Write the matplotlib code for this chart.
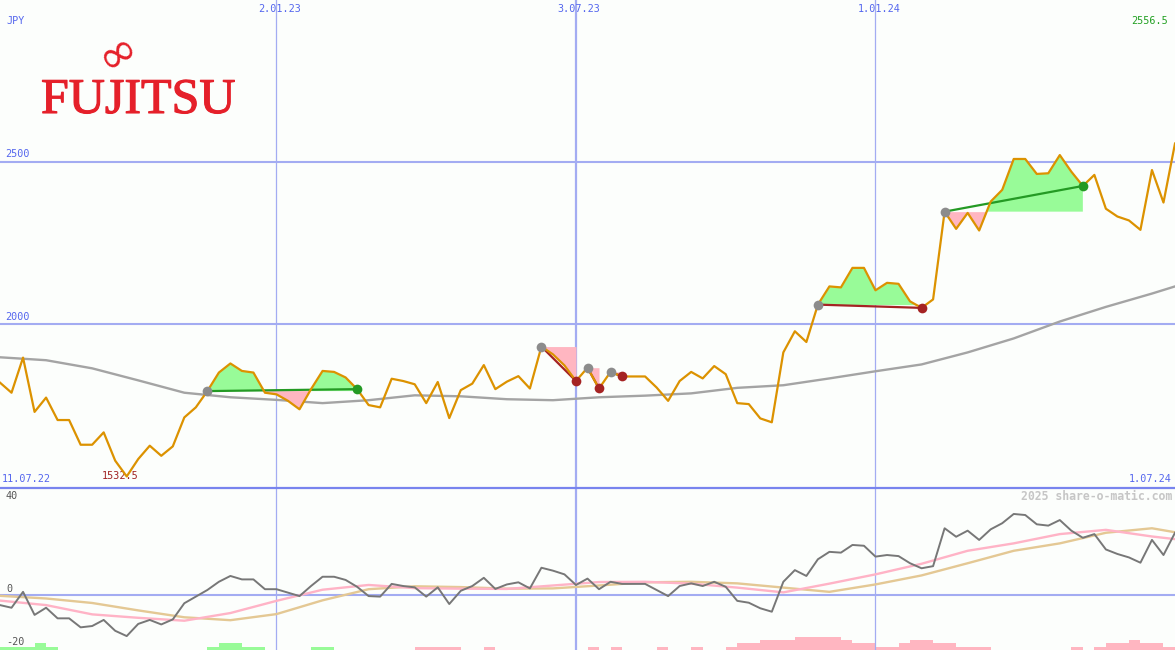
import matplotlib
matplotlib.use("Agg")
import matplotlib.pyplot as plt
import matplotlib.transforms as mtransforms
import matplotlib.patheffects as pe
import numpy as np
import pandas as pd

# weekly closes, 18.07.22 .. 1.07.24 (JPY)
price = [1821, 1790, 1898, 1731, 1775, 1706, 1706, 1630, 1630, 1668,
         1581, 1532.5, 1586, 1627, 1596, 1625, 1714, 1745, 1795, 1852,
         1880, 1857, 1852, 1790, 1785, 1765, 1739, 1801, 1857, 1854,
         1837, 1801, 1752, 1745, 1833, 1826, 1816, 1758, 1823, 1712,
         1798, 1818, 1875, 1801, 1824, 1841, 1803, 1932, 1908, 1874,
         1826, 1867, 1803, 1854, 1840, 1840, 1840, 1806, 1765, 1826,
         1854, 1834, 1872, 1847, 1758, 1755, 1711, 1699, 1914, 1979,
         1946, 2061, 2117, 2114, 2174, 2174, 2105, 2128, 2125, 2071,
         2051, 2077, 2347, 2294, 2343, 2289, 2378, 2414, 2509, 2509,
         2463, 2465, 2521, 2470, 2426, 2460, 2356, 2332, 2320, 2291,
         2475, 2375, 2556.5]

# momentum oscillator (bottom panel)
momentum = [-3.8, -4.8, 1.2, -7.5, -4.8, -8.8, -8.8, -12.2, -11.7, -9.4,
            -13.5, -15.5, -10.9, -9.4, -11.1, -9.2, -3.1, -0.6, 1.9, 5.0,
            7.2, 5.9, 5.9, 2.2, 2.2, 0.9, -0.4, 3.4, 6.9, 6.9,
            5.7, 3.1, -0.4, -0.6, 4.2, 3.4, 2.9, -0.6, 2.9, -3.4,
            1.6, 3.4, 6.5, 2.3, 4.0, 4.8, 2.5, 10.3, 9.2, 7.8,
            3.8, 6.2, 2.2, 5.0, 4.2, 4.2, 4.2, 1.9, -0.4, 3.4,
            4.4, 3.4, 5.0, 3.1, -2.2, -2.9, -5.0, -6.3, 5.0, 9.4,
            7.2, 13.5, 16.3, 16.0, 18.9, 18.6, 14.5, 15.1, 14.7, 12.0,
            10.1, 10.9, 25.2, 22.0, 24.3, 20.8, 24.8, 27.1, 30.6, 30.2,
            26.7, 26.2, 28.3, 24.3, 21.6, 23.0, 17.2, 15.5, 14.2, 12.2,
            20.8, 15.1, 23.5]

# signal strength bars: + green, - pink
signal = [1, 1, 1, 2, 1, 0, 0, 0, 0, 0,
          0, 0, 0, 0, 0, 0, 0, 0, 1, 2,
          2, 1, 1, 0, 0, 0, 0, 1, 1, 0,
          0, 0, 0, 0, 0, 0, -1, -1, -1, -1,
          0, 0, -1, 0, 0, 0, 0, 0, 0, 0,
          0, -1, 0, -1, 0, 0, 0, -1, 0, 0,
          -1, 0, 0, -1, -2, -2, -3, -3, -3, -4,
          -4, -4, -4, -3, -2, -2, -1, -1, -2, -3,
          -3, -2, -2, -1, -1, -1, 0, 0, 0, 0,
          0, 0, 0, -1, 0, -1, -2, -2, -3, -2,
          -2, -1, 0]

# smoothed series, sampled every 4 weeks
smooth_idx = [0, 4, 8, 12, 16, 20, 24, 28, 32, 36, 40, 44, 48, 52,
              56, 60, 64, 68, 72, 76, 80, 84, 88, 92, 96, 100, 102]
long_ma = [1899, 1890, 1865, 1828, 1790, 1776, 1768, 1758, 1767, 1782,
           1779, 1770, 1767, 1776, 1781, 1788, 1805, 1813, 1834, 1856,
           1877, 1914, 1957, 2009, 2054, 2095, 2117]
pink_avg = [-2.1, -3.8, -7.3, -8.6, -9.7, -6.8, -2.2, 2.0, 3.8, 2.6,
            2.4, 2.3, 3.6, 4.9, 5.0, 4.3, 2.8, 1.0, 4.3, 7.8,
            11.8, 16.7, 19.5, 23.0, 24.6, 22.1, 21.1]
tan_avg = [-0.3, -1.3, -3.0, -5.8, -8.4, -9.5, -7.2, -2.0, 2.2, 3.3,
           3.0, 2.4, 2.5, 3.6, 4.8, 5.0, 4.4, 2.8, 1.2, 4.0,
           7.4, 12.0, 16.7, 19.5, 23.5, 25.2, 23.7]

# detected patterns: (start week, end week, direction)
patterns = [(18, 31, "up"), (47, 50, "down"), (51, 52, "down"),
            (53, 54, "down"), (71, 80, "down"), (82, 94, "up")]

grid_dates = ["2023-01-02", "2023-07-03", "2024-01-01"]
grid_labels = ["2.01.23", "3.07.23", "1.01.24"]
price_levels = [2000, 2500]

BG = "#fcfefc"
BLUE = "#a3acf2"
LBL = "#5466ee"
MONO = "DejaVu Sans Mono"
RED = "#e5202a"

dates = pd.date_range("2022-07-18", periods=len(price), freq="7D")
price = np.array(price)
sdates = dates[smooth_idx]

fig = plt.figure(figsize=(11.75, 6.5), dpi=100)
fig.patch.set_facecolor(BG)
ax = fig.add_axes([0, 163 / 650, 1, 487 / 650])
axb = fig.add_axes([0, 0, 1, 162 / 650])
axbar = axb.twinx()

for a in (ax, axb, axbar):
    a.set_xlim(dates[0], dates[-1])
    a.set_xticks([])
    a.set_yticks([])
    for s in a.spines.values():
        s.set_visible(False)
ax.set_facecolor(BG)
axbar.set_zorder(0)
axb.set_zorder(1)
axb.patch.set_visible(False)
axbar.patch.set_facecolor(BG)

# ---- top panel ----
ax.set_ylim(1500, 2998)
for lv in price_levels:
    ax.axhline(lv, color=BLUE, lw=1.5, zorder=1)
for d, lab in zip(grid_dates, grid_labels):
    d = pd.Timestamp(d)
    lw = 1.6 if lab == "3.07.23" else 0.9
    ax.axvline(d, color=BLUE, lw=lw, zorder=1)
    axb.axvline(d, color=BLUE, lw=lw, zorder=1)

ax.plot(sdates, long_ma, color="#a4a4a4", lw=1.7, zorder=2)

for s, e, kind in patterns:
    xs = dates[s:e + 1]
    ps = price[s:e + 1]
    lvl = price[s]
    ax.fill_between(xs, ps, lvl, where=ps >= lvl, interpolate=True,
                    color="#98fb98", lw=0, zorder=2)
    ax.fill_between(xs, ps, lvl, where=ps <= lvl, interpolate=True,
                    color="#ffb6c1", lw=0, zorder=2)
    col = "#249a24" if kind == "up" else "#a52323"
    ax.plot([dates[s], dates[e]], [price[s], price[e]], color=col, lw=1.6, zorder=3)
    ax.plot(dates[s], price[s], "o", color="#8c8c8c", ms=7, mec="none", zorder=5)
    ax.plot(dates[e], price[e], "o", color=col, ms=7, mec="none", zorder=5)

ax.plot(dates, price, color="#dc9200", lw=1.6, zorder=4)

# labels
bl = mtransforms.blended_transform_factory(ax.transData, ax.transAxes)
for d, lab in zip(grid_dates, grid_labels):
    ax.text(pd.Timestamp(d) + pd.Timedelta(days=2), 1 - 9 / 487, lab, transform=bl,
            ha="center", va="center", family=MONO, fontsize=7.3, color=LBL)
lb = mtransforms.blended_transform_factory(ax.transAxes, ax.transData)
for lv in price_levels:
    ax.annotate(str(lv), (5 / 1175, lv), xycoords=lb, xytext=(0, 2),
                textcoords="offset points", ha="left", va="bottom",
                family=MONO, fontsize=7.3, color=LBL)
fig.text(6 / 1175, 1 - 21 / 650, "JPY", family=MONO, fontsize=7.3, color=LBL, va="center")
fig.text(2 / 1175, 1 - 479 / 650, "11.07.22", family=MONO, fontsize=7.3, color=LBL, va="center")
fig.text(1172 / 1175, 1 - 479 / 650, "1.07.24", family=MONO, fontsize=7.3, color=LBL,
         va="center", ha="right")
imin = int(np.argmin(price))
imax = int(np.argmax(price))
ax.annotate(f"{price[imin]:g}", (dates[imin], 1500), xytext=(-5, 8),
            textcoords="offset points", ha="center", va="center",
            family=MONO, fontsize=7.3, color="#a02222")
fig.text(1168 / 1175, 1 - 21 / 650, f"{price[imax]:g}", family=MONO, fontsize=7.3,
         color="#22a022", va="center", ha="right")

# logo
thick = [pe.withStroke(linewidth=0.8, foreground=RED)]
fig.text(41 / 1175, 1 - 113 / 650, "FUJITSU", color=RED, fontsize=36,
         family="Liberation Serif", va="baseline", ha="left", path_effects=thick)
fig.text(119 / 1175, 1 - 53 / 650, "\u221e", color=RED, fontsize=34,
         rotation=32, ha="center", va="center")

# ---- bottom panel ----
axb.set_ylim(-20.75, 40.4)
axb.axhline(0, color=BLUE, lw=1.5, zorder=1)
axb.spines["top"].set_visible(True)
axb.spines["top"].set_color("#7884ee")
axb.spines["top"].set_linewidth(1.6)

sig = np.array(signal)
axbar.set_ylim(0, 49)
axbar.bar(dates, np.abs(sig), width=7, align="edge",
          color=np.where(sig > 0, "#98fb98", "#ffb6c1"), lw=0)

axb.plot(sdates, tan_avg, color="#e4c894", lw=1.7, zorder=2)
axb.plot(sdates, pink_avg, color="#ffb3c6", lw=1.7, zorder=2)
axb.plot(dates, momentum, color="#777777", lw=1.4, zorder=3)

fig.text(6 / 1175, 1 - 496 / 650, "40", family=MONO, fontsize=7.3, color="#555555", va="center")
fig.text(6 / 1175, 1 - 589 / 650, "0", family=MONO, fontsize=7.3, color="#555555", va="center")
fig.text(6 / 1175, 1 - 642 / 650, "-20", family=MONO, fontsize=7.3, color="#555555", va="center")
fig.text(1172 / 1175, 1 - 496 / 650, "2025 share-o-matic.com", family=MONO, fontsize=8.3,
         fontweight="bold", color="#c6c6c6", va="center", ha="right")

fig.savefig("out.png", dpi=100, facecolor=BG)
